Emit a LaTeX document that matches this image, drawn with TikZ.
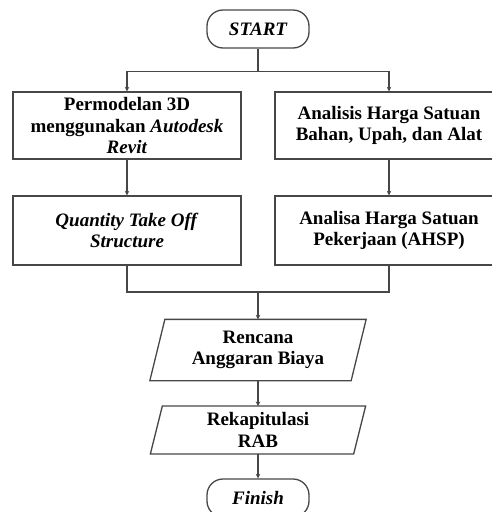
\documentclass[tikz,border=0pt]{standalone}
\usepackage{fontspec}
\setmainfont{Liberation Serif}
\usetikzlibrary{arrows.meta}
\definecolor{linec}{gray}{0.28}
\tikzset{
  base/.style={draw=linec, line width=1.3pt, text=black, align=center,
    font=\fontsize{19}{21.5}\selectfont\bfseries, inner sep=0pt},
  procbox/.style={base, rectangle, minimum width=228pt},
  termbox/.style={base, rectangle, rounded corners=16pt, minimum width=102pt, minimum height=38pt},
  iotext/.style={base, draw=none, rectangle},
  conn/.style={draw=linec, line width=1.3pt},
  arr/.style={conn, -{Stealth[length=4.5pt,width=4.5pt]}},
}
\begin{document}
\begin{tikzpicture}[x=1pt,y=-1pt]
\useasboundingbox (0,0) rectangle (492,512);
\clip (0,0) rectangle (492,512);
\node[termbox] (start) at (258,29) {\itshape START};
\node[procbox, minimum height=67pt] (b1) at (127,125.5) {Permodelan 3D\\menggunakan \textit{Autodesk}\\\textit{Revit}};
\node[procbox, minimum height=67pt] (b2) at (389,125.5) {Analisis Harga Satuan\\Bahan, Upah, dan Alat};
\node[procbox, minimum height=69pt] (b3) at (127,230.5) {\textit{Quantity Take Off}\\\textit{Structure}};
\node[procbox, minimum height=69pt] (b4) at (389,230.5) {Analisa Harga Satuan\\Pekerjaan (AHSP)};
\node[iotext, minimum width=200pt, minimum height=60pt] (p1) at (258,350) {Rencana\\Anggaran Biaya};
\node[iotext, minimum width=202pt, minimum height=46.7pt] (p2) at (258,430) {Rekapitulasi\\RAB};
\node[termbox] (finish) at (258,498) {\itshape Finish};
\draw[conn] ([xshift=7.5pt]p1.north west) -- ([xshift=7.5pt]p1.north east) -- ([xshift=-7.5pt]p1.south east) -- ([xshift=-7.5pt]p1.south west) -- cycle;
\draw[conn] ([xshift=6pt]p2.north west) -- ([xshift=6pt]p2.north east) -- ([xshift=-6pt]p2.south east) -- ([xshift=-6pt]p2.south west) -- cycle;
\coordinate (split) at (258,71.5);
\coordinate (join) at (258,292);
\draw[conn] (start.south) -- (split);
\draw[arr] (split) -| (b1.north);
\draw[arr] (split) -| (b2.north);
\draw[arr] (b1.south) -- (b3.north);
\draw[arr] (b2.south) -- (b4.north);
\draw[conn] (b3.south) |- (join);
\draw[conn] (b4.south) |- (join);
\draw[arr] (join) -- (p1.north);
\draw[arr] (p1.south) -- (p2.north);
\draw[arr] (p2.south) -- (finish.north);
\end{tikzpicture}
\end{document}
